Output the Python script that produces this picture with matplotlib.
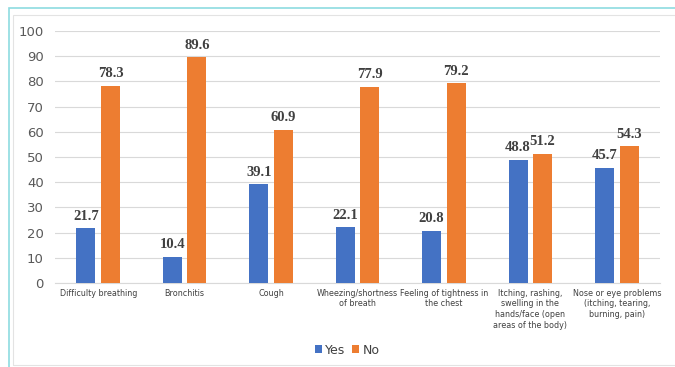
import numpy as np
import matplotlib.pyplot as plt
from matplotlib.patches import Rectangle

categories = [
    "Difficulty breathing",
    "Bronchitis",
    "Cough",
    "Wheezing/shortness\nof breath",
    "Feeling of tightness in\nthe chest",
    "Itching, rashing,\nswelling in the\nhands/face (open\nareas of the body)",
    "Nose or eye problems\n(itching, tearing,\nburning, pain)",
]
yes_vals = [21.7, 10.4, 39.1, 22.1, 20.8, 48.8, 45.7]
no_vals = [78.3, 89.6, 60.9, 77.9, 79.2, 51.2, 54.3]
y_ticks = list(range(0, 101, 10))

BLUE = "#4472C4"
ORANGE = "#ED7D31"

fig = plt.figure(figsize=(6.75, 3.67), dpi=100)
ax = fig.add_axes([55 / 675, 1 - 283 / 367, 605 / 675, 252 / 367])

x = np.arange(len(categories))
w = 0.22
off = 0.142
b1 = ax.bar(x - off, yes_vals, w, color=BLUE, label="Yes", zorder=3)
b2 = ax.bar(x + off, no_vals, w, color=ORANGE, label="No", zorder=3)

# подписи значений над столбиками
for bars in (b1, b2):
    for r in bars:
        ax.annotate(f"{r.get_height():.1f}",
                    (r.get_x() + r.get_width() / 2, r.get_height()),
                    xytext=(0, 4), textcoords="offset points",
                    ha="center", va="bottom", fontsize=10.5,
                    fontweight="bold", family="Liberation Serif",
                    color="#404040")

ax.set_xlim(-0.5, len(categories) - 0.5)
ax.set_ylim(0, 100)
ax.set_yticks(y_ticks)
ax.set_yticklabels([str(t) for t in y_ticks], fontsize=9.5, color="#595959")
ax.set_xticks(x)
ax.set_xticklabels(categories, fontsize=5.8, color="#404040", linespacing=1.25)
ax.tick_params(axis="both", length=0)
ax.tick_params(axis="y", pad=8)
ax.tick_params(axis="x", pad=4)
ax.grid(axis="y", color="#D9D9D9", linewidth=0.8, zorder=0)
for s in ("top", "right", "left"):
    ax.spines[s].set_visible(False)
ax.spines["bottom"].set_color("#D9D9D9")

fig.legend(handles=[b1, b2], loc="center", bbox_to_anchor=(347 / 675, 1 - 350 / 367),
           ncol=2, frameon=False, fontsize=9, handlelength=0.55, handleheight=0.55,
           handletextpad=0.25, columnspacing=0.6, labelcolor="#404040")

# рамка вокруг картинки
fig.patches.append(Rectangle((9 / 675, -0.1), 1.1, 1 - 8 / 367 + 0.1,
                             transform=fig.transFigure, fill=False,
                             edgecolor="#8EDCE0", linewidth=1.2))
fig.patches.append(Rectangle((13 / 675, 2 / 367), 1.1, 1 - 17 / 367,
                             transform=fig.transFigure, fill=False,
                             edgecolor="#E3E3E3", linewidth=0.8))

fig.savefig("out.png", dpi=100)
